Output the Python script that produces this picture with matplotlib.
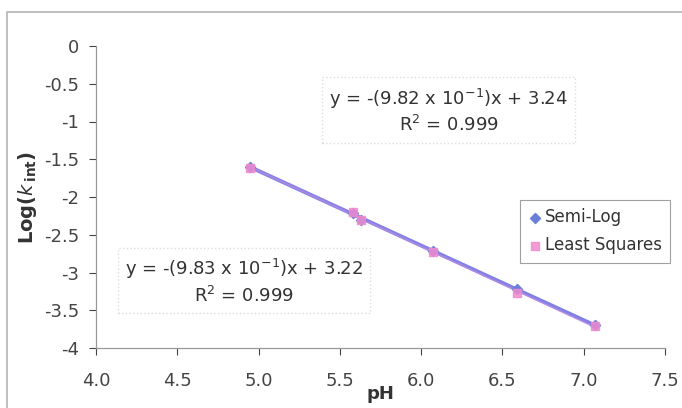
import numpy as np
import matplotlib.pyplot as plt
from matplotlib.patches import Rectangle

plt.rcParams['font.family'] = ['DejaVu Sans']
plt.rcParams['mathtext.default'] = 'regular'

# данные (pH и Log(k_int))
ph = [4.95, 5.58, 5.63, 6.07, 6.59, 7.07]
semi_log = [-1.60, -2.21, -2.30, -2.72, -3.22, -3.70]
least_sq = [-1.61, -2.20, -2.30, -2.73, -3.27, -3.71]
x_ticks = [4.0, 4.5, 5.0, 5.5, 6.0, 6.5, 7.0, 7.5]
y_ticks = [0, -0.5, -1, -1.5, -2, -2.5, -3, -3.5, -4]

fig = plt.figure(figsize=(6.82, 4.08), dpi=100)
ax = fig.add_axes([96/682, 60/408, 569/682, 302/408])

# рамка всей диаграммы
fig.patches.append(Rectangle((7/682, -0.05), 1.0, (396/408) + 0.05, transform=fig.transFigure,
                             fill=False, edgecolor='#b5b5b5', linewidth=1.2))

# линии тренда
xs = np.array([min(ph), max(ph)])
k1, b1 = np.polyfit(ph, semi_log, 1)
k2, b2 = np.polyfit(ph, least_sq, 1)
ax.plot(xs, k1*xs + b1, color='#8080e6', linewidth=2.8, zorder=2)
ax.plot(xs, k2*xs + b2, color='#c08ce0', linewidth=1.2, alpha=0.7, zorder=2)

ax.scatter(ph, semi_log, marker='D', s=26, color='#6a7fd6', label='Semi-Log', zorder=3)
ax.scatter(ph, least_sq, marker='s', s=26, color='#f08ad0', alpha=0.85,
           label='Least Squares', zorder=4)

ax.set_xlim(4.0, 7.5)
ax.set_ylim(-4, 0)
ax.set_xticks(x_ticks)
ax.set_xticklabels([f'{v:.1f}' for v in x_ticks])
ax.set_yticks(y_ticks)
ax.set_yticklabels([f'{v:g}' for v in y_ticks])
ax.tick_params(axis='both', labelsize=13, colors='#444444', length=5, width=0.8,
               direction='out')
ax.tick_params(axis='x', pad=12)
ax.tick_params(axis='y', pad=7)
for s in ['top', 'right']:
    ax.spines[s].set_visible(False)
for s in ['left', 'bottom']:
    ax.spines[s].set_color('#999999')
    ax.spines[s].set_linewidth(0.9)

ax.set_xlabel('pH', fontsize=13, fontweight='bold', color='#333333', labelpad=-3)
ax.set_ylabel(r'Log($\mathbf{\mathit{k}}$$_{\,\mathbf{int}}$)', fontsize=14,
              fontweight='bold', color='#333333', labelpad=4)

# уравнения
box = dict(boxstyle='square,pad=0.4', facecolor='white', edgecolor='#dddddd',
           linestyle=':', linewidth=1)
ax.text(6.17, -0.86, 'y = -(9.82 x 10$^{-1}$)x + 3.24\nR$^{2}$ = 0.999', fontsize=13,
        ha='center', va='center', color='#333333', linespacing=1.3, bbox=box)
ax.text(4.91, -3.12, 'y = -(9.83 x 10$^{-1}$)x + 3.22\nR$^{2}$ = 0.999', fontsize=13,
        ha='center', va='center', color='#333333', linespacing=1.3, bbox=box)

leg = ax.legend(loc='upper left', bbox_to_anchor=(0.745, 0.49), borderaxespad=0,
                fontsize=12, frameon=True, fancybox=False, handletextpad=0.2,
                handlelength=0.8, borderpad=0.5, labelspacing=0.6)
leg.get_frame().set_edgecolor('#888888')
leg.get_frame().set_linewidth(0.8)
for t in leg.get_texts():
    t.set_color('#333333')

fig.savefig('out.png', dpi=100)
